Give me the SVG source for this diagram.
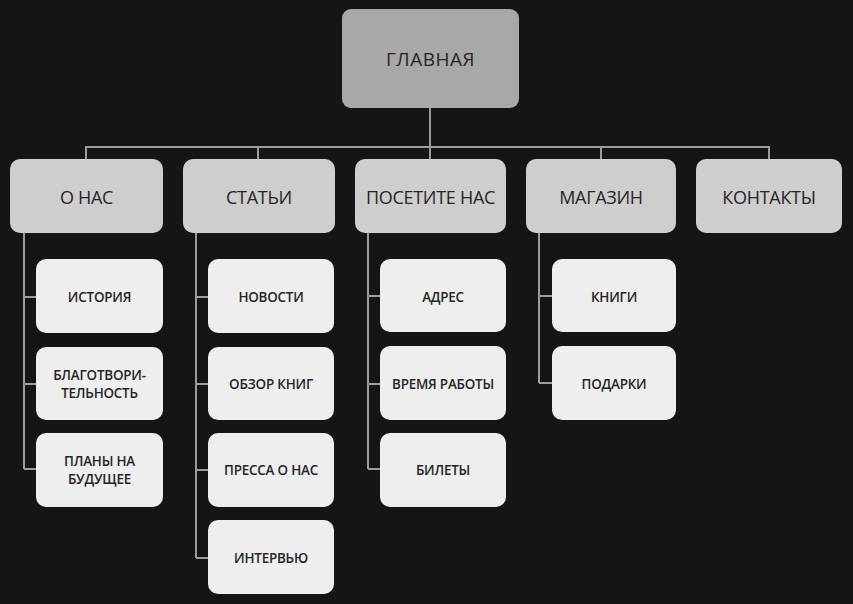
<svg xmlns="http://www.w3.org/2000/svg" width="853" height="604" viewBox="0 0 853 604">
<style>
.bg{fill:#151515}
.top{fill:#a8a8a8}
.l1{fill:#cecece}
.l2{fill:#eeeeee}
.c{fill:none;stroke:#9c9c9c;stroke-width:2}
.t0{font-family:"Open Sans","Noto Sans","Liberation Sans",sans-serif;font-size:19px;fill:#262626;text-anchor:middle;letter-spacing:0.5px}
.t1{font-family:"Open Sans","Noto Sans","Liberation Sans",sans-serif;font-size:18px;fill:#262626;text-anchor:middle;letter-spacing:-0.3px}
.t2{font-family:"Open Sans","Noto Sans","Liberation Sans",sans-serif;font-size:13.4px;font-weight:600;fill:#262626;text-anchor:middle;letter-spacing:-0.2px}
</style>
<rect class="bg" x="0" y="0" width="853" height="604"/>
<g id="connectors">
<path class="c" d="M430 108V147M86 159V147H769V159M258 147V159M430 147V159M601 147V159"/>
<path class="c" d="M24 233V469M24 297H36M24 384H36M24 469H36"/>
<path class="c" d="M196 233V558M196 297H208M196 384H208M196 470H208M196 558H208"/>
<path class="c" d="M368 233V469M368 296H380M368 384H380M368 469H380"/>
<path class="c" d="M539 233V383M539 296H552M539 383H552"/>
</g>
<g id="n-main"><rect class="top" x="342" y="9" width="177" height="99" rx="9"/><text class="t0" x="430.5" y="66">ГЛАВНАЯ</text></g>
<g id="n-about"><rect class="l1" x="10" y="159" width="153" height="74" rx="10"/><text class="t1" x="86.5" y="204">О НАС</text></g>
<g id="n-articles"><rect class="l1" x="183" y="159" width="152" height="74" rx="10"/><text class="t1" x="259" y="204">СТАТЬИ</text></g>
<g id="n-visit"><rect class="l1" x="355" y="159" width="151" height="74" rx="10"/><text class="t1" x="430.5" y="204">ПОСЕТИТЕ НАС</text></g>
<g id="n-shop"><rect class="l1" x="526" y="159" width="150" height="74" rx="10"/><text class="t1" x="601" y="204">МАГАЗИН</text></g>
<g id="n-contacts"><rect class="l1" x="696" y="159" width="146" height="74" rx="10"/><text class="t1" x="769" y="204">КОНТАКТЫ</text></g>
<g id="n-history"><rect class="l2" x="36" y="259" width="127" height="74" rx="10"/><text class="t2" x="99.5" y="302">ИСТОРИЯ</text></g>
<g id="n-charity"><rect class="l2" x="36" y="347" width="127" height="73" rx="10"/><text class="t2" x="99.5" y="380">БЛАГОТВОРИ-</text><text class="t2" x="99.5" y="398">ТЕЛЬНОСТЬ</text></g>
<g id="n-plans"><rect class="l2" x="36" y="433" width="127" height="74" rx="10"/><text class="t2" x="99.5" y="465.5">ПЛАНЫ НА</text><text class="t2" x="99.5" y="483.5">БУДУЩЕЕ</text></g>
<g id="n-news"><rect class="l2" x="208" y="259" width="126" height="74" rx="10"/><text class="t2" x="271" y="302">НОВОСТИ</text></g>
<g id="n-reviews"><rect class="l2" x="208" y="347" width="126" height="73" rx="10"/><text class="t2" x="271" y="389">ОБЗОР КНИГ</text></g>
<g id="n-press"><rect class="l2" x="208" y="433" width="126" height="74" rx="10"/><text class="t2" x="271" y="475">ПРЕССА О НАС</text></g>
<g id="n-interview"><rect class="l2" x="208" y="520" width="126" height="74" rx="10"/><text class="t2" x="271" y="563">ИНТЕРВЬЮ</text></g>
<g id="n-address"><rect class="l2" x="380" y="259" width="126" height="73" rx="10"/><text class="t2" x="443" y="302">АДРЕС</text></g>
<g id="n-hours"><rect class="l2" x="380" y="346" width="126" height="74" rx="10"/><text class="t2" x="443" y="389">ВРЕМЯ РАБОТЫ</text></g>
<g id="n-tickets"><rect class="l2" x="380" y="433" width="126" height="74" rx="10"/><text class="t2" x="443" y="475">БИЛЕТЫ</text></g>
<g id="n-books"><rect class="l2" x="552" y="259" width="124" height="73" rx="10"/><text class="t2" x="614" y="302">КНИГИ</text></g>
<g id="n-gifts"><rect class="l2" x="552" y="346" width="124" height="74" rx="10"/><text class="t2" x="614" y="389">ПОДАРКИ</text></g>
</svg>
